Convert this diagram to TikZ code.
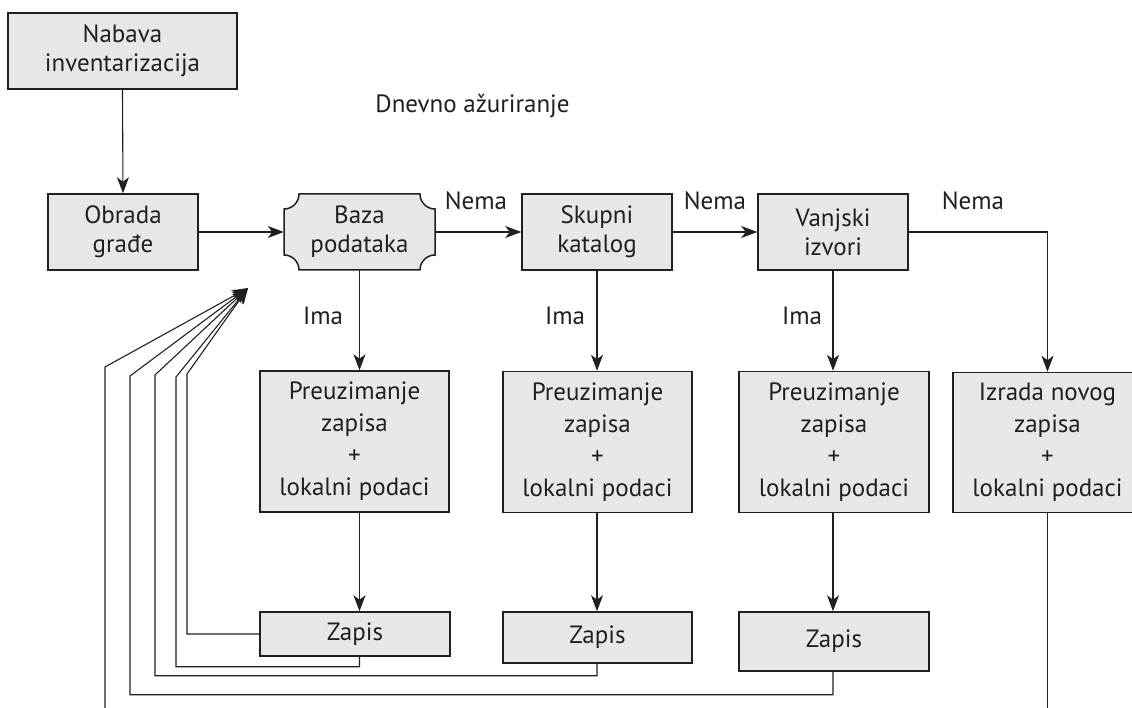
\documentclass[tikz,border=0pt]{standalone}
\usepackage{fontspec}
\setmainfont{PT Sans}
\usetikzlibrary{arrows.meta}
\definecolor{ink}{RGB}{35,31,32}
\definecolor{boxfill}{RGB}{230,231,232}
\tikzset{
  box/.style={draw=ink, fill=boxfill, line width=1.5pt, align=center, inner sep=0pt,
    text=ink, font=\fontsize{25}{29}\selectfont},
  tallbox/.style={box, font=\fontsize{25}{32}\selectfont},
  lbl/.style={text=ink, font=\fontsize{25}{29}\selectfont, inner sep=0pt, anchor=base},
  arr/.style={draw=ink, line width=1.1pt, -{Stealth[length=16pt,width=12pt,inset=4.5pt]}},
  ln/.style={draw=ink, line width=1.1pt}
}
\begin{document}
\begin{tikzpicture}[x=1pt,y=-1pt]
\clip (0,0) rectangle (1132,708);
\fill[white] (0,0) rectangle (1132,708);

% boxes
\node[box, minimum width=229pt, minimum height=76pt] (nab) at (122.5,51) {Nabava\\inventarizacija};
\node[box, minimum width=150pt, minimum height=76pt] (obr) at (123,232) {Obrada\\građe};
\fill[boxfill, draw=ink, line width=1.5pt]
  (299,194) -- (420,194) arc[start angle=180, end angle=90, radius=15]
  -- (435,255) arc[start angle=270, end angle=180, radius=15]
  -- (299,270) arc[start angle=0, end angle=-90, radius=15]
  -- (284,209) arc[start angle=90, end angle=0, radius=15] -- cycle;
\node[align=center, inner sep=0pt, text=ink, font=\fontsize{25}{29}\selectfont,
  minimum width=151pt, minimum height=76pt] (baza) at (359.5,232) {Baza\\podataka};
\node[box, minimum width=150pt, minimum height=76pt] (skup) at (597,232) {Skupni\\katalog};
\node[box, minimum width=150pt, minimum height=76pt] (vanj) at (833,232) {Vanjski\\izvori};

\node[tallbox, minimum width=189pt, minimum height=141pt] (p1) at (354.5,441.5) {Preuzimanje\\zapisa\\+\\lokalni podaci};
\node[tallbox, minimum width=189pt, minimum height=141pt] (p2) at (597.5,442) {Preuzimanje\\zapisa\\+\\lokalni podaci};
\node[tallbox, minimum width=190pt, minimum height=141pt] (p3) at (834,442) {Preuzimanje\\zapisa\\+\\lokalni podaci};
\node[tallbox, minimum width=189pt, minimum height=140pt] (izr) at (1047.5,442.5) {Izrada novog\\zapisa\\+\\lokalni podaci};

\node[box, minimum width=190pt, minimum height=44pt] (z1) at (355,634) {Zapis};
\node[box, minimum width=189pt, minimum height=51pt] (z2) at (597.5,637.5) {Zapis};
\node[box, minimum width=190pt, minimum height=59pt] (z3) at (834,641.5) {Zapis};

% labels
\node[lbl] (dnev) at (472.5,113) {Dnevno ažuriranje};
\node[lbl] (nema1) at (476,210) {Nema};
\node[lbl] (nema2) at (715,210) {Nema};
\node[lbl] (nema3) at (973,210) {Nema};
\node[lbl] (ima1) at (323,325) {Ima};
\node[lbl] (ima2) at (565,325) {Ima};
\node[lbl] (ima3) at (802,325) {Ima};

% connectors
\draw[arr] (nab.south) -- (obr.north);
\draw[arr] (obr.east) -- (baza.west);
\draw[arr] (baza.east) -- (skup.west);
\draw[arr] (skup.east) -- (vanj.west);
\draw[arr] (vanj.east) -| (izr.north);
\draw[arr] (baza.south) -- (baza.south |- p1.north);
\draw[arr] (skup.south) -- (skup.south |- p2.north);
\draw[arr] (vanj.south) -- (vanj.south |- p3.north);
\draw[arr] (p1.south -| baza.south) -- (z1.north -| baza.south);
\draw[arr] (p2.south -| skup.south) -- (z2.north -| skup.south);
\draw[arr] (p3.south -| vanj.south) -- (z3.north -| vanj.south);

% feedback
\coordinate (tip) at (248,288);
\coordinate (lb) at (105,720);
\draw[arr] (z1.west) -| (187,374) -- (tip);
\draw[arr] (z1.south -| baza.south) -- ++(0,10) -| (176,377) -- (tip);
\draw[arr] (z2.south -| skup.south) -- ++(0,12) -| (155,375) -- (tip);
\draw[arr] (z3.south -| vanj.south) -- ++(0,23) -| (130,376) -- (tip);
\draw[arr] (lb) -- (105,367) -- (tip);
\draw[ln] (izr.south) -- ++(0,210);
\end{tikzpicture}
\end{document}
